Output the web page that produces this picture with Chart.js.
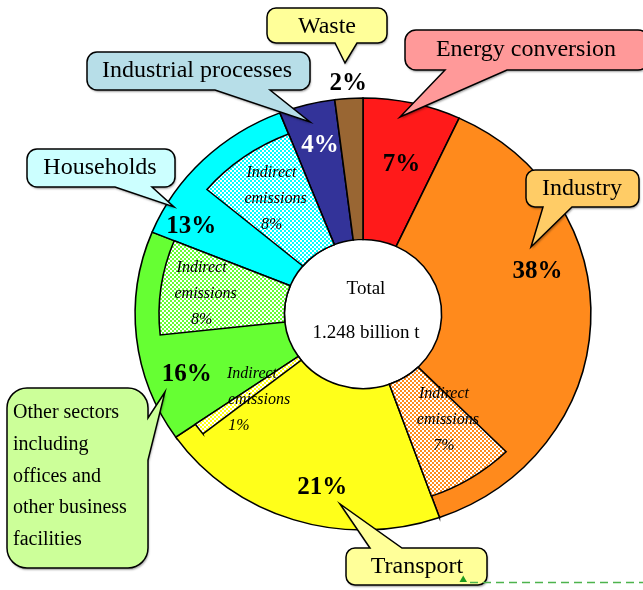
<!DOCTYPE html>
<html><head><meta charset="utf-8">
<script src="https://cdn.jsdelivr.net/npm/chart.js@4.4.1/dist/chart.umd.min.js"></script>
<style>html,body{margin:0;padding:0;background:#fff;overflow:hidden}canvas{display:block}</style>
</head><body>
<canvas id="c" width="643" height="590"></canvas>
<script>
// ---------- data ----------
const sectors = ['Energy conversion', 'Industry', 'Transport', 'Other sectors including offices and other business facilities', 'Households', 'Industrial processes', 'Waste'];
const shares = [7, 38, 21, 16, 13, 4, 2];
const shareLabels = ['7%', '38%', '21%', '16%', '13%', '4%', '2%'];
const indirectSector = [1, 2, 3, 4];          // index into sectors
const indirectShares = [7, 1, 8, 8];
const indirectLabels = ['7%', '1%', '8%', '8%'];
const centerLines = ['Total', '1.248 billion t'];

// ---------- styles / layout ----------
const sectorColors = ['#FF1A1A', '#FF8A1C', '#FFFF1A', '#66FF33', '#00FFFF', '#333399', '#996633'];
const shareLabelColors = ['#000', '#000', '#000', '#000', '#000', '#fff', '#000'];
// label position relative to its arc: fraction along angle, fraction across ring
const shareLabelPos = [[0.55, 0.56], [0.375, 0.68], [0.43, 0.73], [0.26, 0.73], [0.13, 0.78], [0.55, 0.70], [0.51, 1.105]];
const indirectLabelPos = [[0.29, 0.49], [-0.72, 0.47], [0.49, 0.64], [0.5, 0.57]];
const indirectLineDx = [[-4, 0, -4], [-7, 0, -20], [-4, 0, -4], [-4, 0, -4]];
const SX = 1.055;          // horizontal stretch of the pie (ellipse)
const IND_OUT = 0.84;      // indirect wedge outer edge, fraction of ring
const SERIF = '"Liberation Serif","Times New Roman",serif';

const callouts = [
  {text: ['Waste'], x: 267, y: 8, w: 120, h: 35, r: 9, fill: '#FFFF99', tail: {side: 'bottom', a: 335, b: 357, tx: 345, ty: 63}, tx: 327, ty: 27},
  {text: ['Energy conversion'], x: 405, y: 30, w: 244, h: 40, r: 11, fill: '#FF9999', tail: {side: 'bottom', a: 445, b: 507, tx: 400, ty: 117}, tx: 526, ty: 50},
  {text: ['Industry'], x: 526, y: 170, w: 113, h: 37, r: 9, fill: '#FFCC66', tail: {side: 'bottom', a: 543, b: 572, tx: 531, ty: 247}, tx: 582, ty: 189},
  {text: ['Industrial processes'], x: 87, y: 52, w: 223, h: 38, r: 10, fill: '#B7DEE8', tail: {side: 'bottom', a: 215, b: 270, tx: 310, ty: 122}, tx: 197, ty: 71},
  {text: ['Households'], x: 27, y: 149, w: 148, h: 38, r: 10, fill: '#CCFFFF', tail: {side: 'bottom', a: 115, b: 152, tx: 174, ty: 207}, tx: 100, ty: 168},
  {text: ['Transport'], x: 346, y: 548, w: 141, h: 37, r: 9, fill: '#FFFF99', tail: {side: 'top', a: 370, b: 402, tx: 340, ty: 504}, tx: 417, ty: 567},
  {text: ['Other sectors', 'including', 'offices and', 'other business', 'facilities'], x: 7, y: 388, w: 141, h: 180, r: 20, fill: '#CCFF99',
   tail: {side: 'right', a: 418, b: 460, tx: 165, ty: 392}, tx: 13, ty: 413, lh: 31.7, size: 20, align: 'left'}
];

function calloutPath(ctx, c) {
  const {x, y, w, h, r, tail} = c;
  ctx.beginPath();
  ctx.moveTo(x + r, y);
  if (tail.side === 'top') { ctx.lineTo(tail.a, y); ctx.lineTo(tail.tx, tail.ty); ctx.lineTo(tail.b, y); }
  ctx.lineTo(x + w - r, y);
  ctx.arcTo(x + w, y, x + w, y + r, r);
  if (tail.side === 'right') { ctx.lineTo(x + w, tail.a); ctx.lineTo(tail.tx, tail.ty); ctx.lineTo(x + w, tail.b); }
  ctx.lineTo(x + w, y + h - r);
  ctx.arcTo(x + w, y + h, x + w - r, y + h, r);
  if (tail.side === 'bottom') { ctx.lineTo(tail.b, y + h); ctx.lineTo(tail.tx, tail.ty); ctx.lineTo(tail.a, y + h); }
  ctx.lineTo(x + r, y + h);
  ctx.arcTo(x, y + h, x, y + h - r, r);
  ctx.lineTo(x, y + r);
  ctx.arcTo(x, y, x + r, y, r);
  ctx.closePath();
}

function makePattern(ctx, color) {
  const p = document.createElement('canvas');
  p.width = 4; p.height = 4;
  const g = p.getContext('2d');
  g.fillStyle = color; g.fillRect(0, 0, 4, 4);
  g.fillStyle = '#fff'; g.fillRect(0, 0, 2, 2); g.fillRect(2, 2, 2, 2);
  const pat = ctx.createPattern(p, 'repeat');
  // keep the checker crisp in screen space despite the ellipse stretch
  if (pat.setTransform) pat.setTransform(ctx.getTransform().inverse());
  return pat;
}

function arcPoint(el, fa, fr, innerR, outerR) {
  const a = el.startAngle + fa * (el.endAngle - el.startAngle);
  const rr = innerR + fr * (outerR - innerR);
  return {x: el.x + SX * rr * Math.cos(a), y: el.y + rr * Math.sin(a)};
}

const indirectArcs = [];

const piePlugin = {
  id: 'piePlugin',
  beforeDatasetsDraw(chart) {
    const ctx = chart.ctx;
    const el = chart.getDatasetMeta(0).data[0];
    ctx.save();
    ctx.translate(el.x, el.y);
    ctx.scale(SX, 1);
    ctx.translate(-el.x, -el.y);
  },
  afterDatasetsDraw(chart) {
    const ctx = chart.ctx;
    const meta = chart.getDatasetMeta(0);
    const ArcCtor = meta.data[0].constructor;
    const total = shares.reduce((s, v) => s + v, 0);
    indirectArcs.length = 0;
    indirectSector.forEach((si, k) => {
      const parent = meta.data[si];
      const span = indirectShares[k] / total * Math.PI * 2;
      const inner = parent.innerRadius;
      const outer = inner + IND_OUT * (parent.outerRadius - inner);
      const arc = new ArcCtor({
        x: parent.x, y: parent.y,
        startAngle: parent.endAngle - span, endAngle: parent.endAngle,
        circumference: span, innerRadius: inner, outerRadius: outer
      });
      arc.options = {
        backgroundColor: makePattern(ctx, sectorColors[si]),
        borderColor: '#000', borderWidth: 1.5, borderAlign: 'center',
        borderJoinStyle: 'miter', borderRadius: 0, borderDash: [], borderDashOffset: 0,
        offset: 0, spacing: 0, circular: true
      };
      arc.draw(ctx);
      indirectArcs.push(arc);
    });
    ctx.restore();
  },
  afterDraw(chart) {
    const ctx = chart.ctx;
    const meta = chart.getDatasetMeta(0);
    ctx.save();
    ctx.textAlign = 'center';
    ctx.textBaseline = 'middle';
    // share labels
    meta.data.forEach((el, i) => {
      const p = arcPoint(el, shareLabelPos[i][0], shareLabelPos[i][1], el.innerRadius, el.outerRadius);
      ctx.font = 'bold 25px ' + SERIF;
      ctx.fillStyle = shareLabelColors[i];
      ctx.fillText(shareLabels[i], p.x, p.y);
    });
    // indirect labels
    indirectArcs.forEach((arc, k) => {
      const p = arcPoint(arc, indirectLabelPos[k][0], indirectLabelPos[k][1], arc.innerRadius, arc.outerRadius);
      ctx.font = 'italic 16px ' + SERIF;
      ctx.fillStyle = '#000';
      const lines = ['Indirect', 'emissions', indirectLabels[k]];
      lines.forEach((t, j) => ctx.fillText(t, p.x + indirectLineDx[k][j], p.y + (j - 1) * 26));
    });
    // centre text
    const c0 = meta.data[0];
    ctx.font = '19px ' + SERIF;
    ctx.fillText(centerLines[0], c0.x + 3, c0.y - 25);
    ctx.fillText(centerLines[1], c0.x + 3, c0.y + 19);
    // callouts
    callouts.forEach(c => {
      ctx.save();
      calloutPath(ctx, c);
      ctx.shadowColor = 'rgba(0,0,0,0.35)';
      ctx.shadowOffsetX = 1; ctx.shadowOffsetY = 2; ctx.shadowBlur = 2;
      ctx.fillStyle = c.fill;
      ctx.fill();
      ctx.restore();
      calloutPath(ctx, c);
      ctx.lineWidth = 1.5; ctx.strokeStyle = '#000'; ctx.lineJoin = 'miter';
      ctx.stroke();
      ctx.fillStyle = '#000';
      ctx.font = (c.size || 24) + 'px ' + SERIF;
      ctx.textAlign = c.align || 'center';
      c.text.forEach((t, j) => ctx.fillText(t, c.tx, c.ty + j * (c.lh || 0)));
    });
    // green dashed guide at the bottom
    ctx.textAlign = 'center';
    ctx.beginPath();
    ctx.setLineDash([8, 5]);
    ctx.strokeStyle = '#4DB34D'; ctx.lineWidth = 1.5;
    ctx.moveTo(470, 582.5); ctx.lineTo(643, 582.5);
    ctx.stroke();
    ctx.setLineDash([]);
    ctx.beginPath();
    ctx.fillStyle = '#1E9A1E';
    ctx.moveTo(459.5, 582); ctx.lineTo(467, 582); ctx.lineTo(463.2, 575.5); ctx.closePath();
    ctx.fill();
    ctx.restore();
  }
};

new Chart(document.getElementById('c'), {
  type: 'doughnut',
  data: {
    labels: sectors,
    datasets: [{
      data: shares,
      backgroundColor: sectorColors,
      borderColor: '#000',
      borderWidth: 1.5,
      borderJoinStyle: 'miter'
    }]
  },
  options: {
    responsive: false,
    animation: false,
    devicePixelRatio: 1,
    radius: 216,
    cutout: '34.5%',
    layout: {padding: {left: 83, right: 0, top: 38, bottom: 0}},
    plugins: {legend: {display: false}, tooltip: {enabled: false}}
  },
  plugins: [piePlugin]
});
</script>
</body></html>
